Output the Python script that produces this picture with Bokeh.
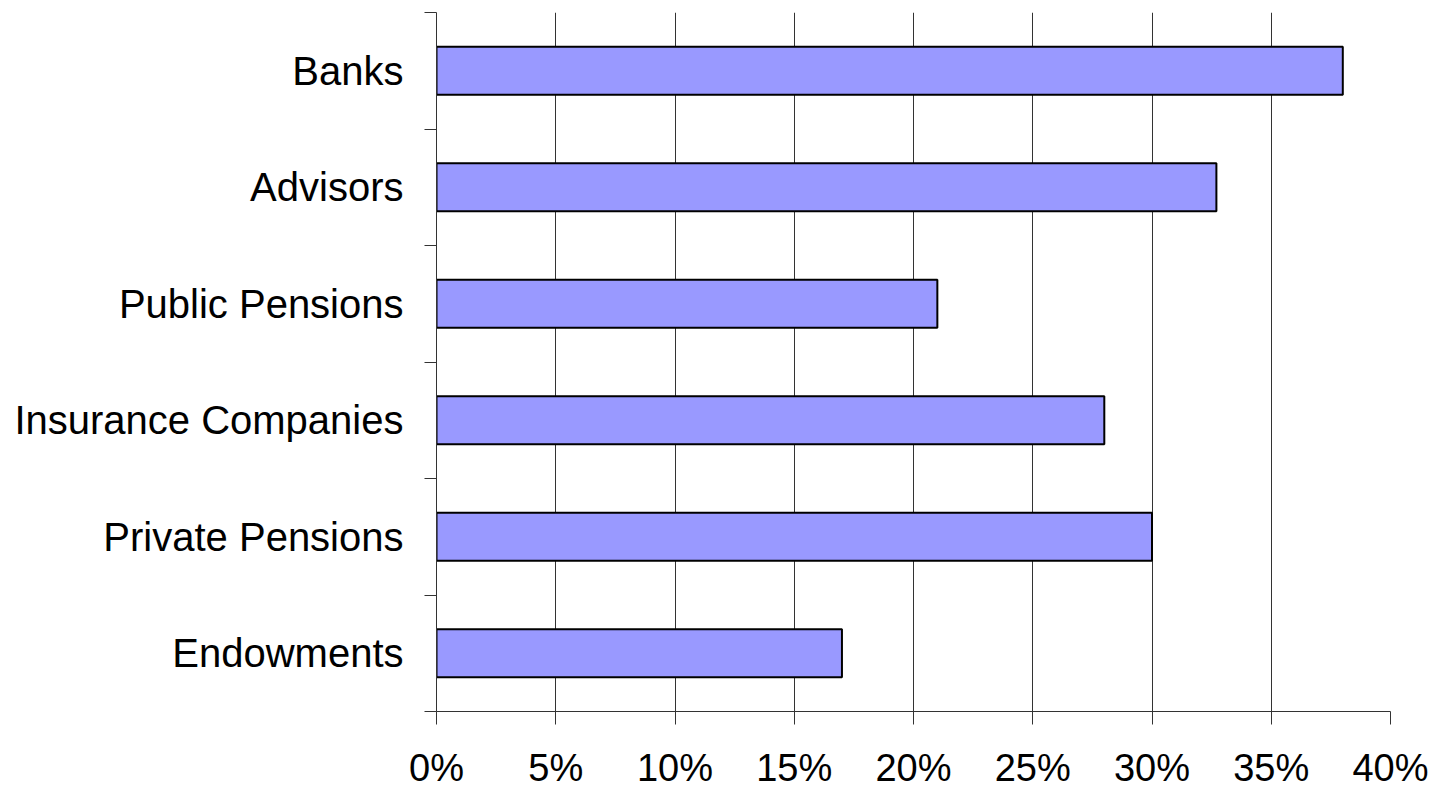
from bokeh.plotting import figure
from bokeh.models import FixedTicker, ColumnDataSource, Range1d
from bokeh.embed import file_html
from bokeh.resources import INLINE

categories = ["Endowments", "Private Pensions", "Insurance Companies",
              "Public Pensions", "Advisors", "Banks"]
values = [0.17, 0.30, 0.28, 0.21, 0.327, 0.38]
x_ticks = [0.0, 0.05, 0.10, 0.15, 0.20, 0.25, 0.30, 0.35, 0.40]
x_tick_labels = ["0%", "5%", "10%", "15%", "20%", "25%", "30%", "35%", "40%"]

positions = [i + 0.5 for i in range(len(categories))]
bounds = list(range(len(categories) + 1))

src = ColumnDataSource(dict(y=positions, v=values, name=categories))

p = figure(width=1439, height=791, output_backend="svg", toolbar_location=None,
           x_range=Range1d(0, 0.40), y_range=Range1d(0, len(categories)),
           min_border_left=436, min_border_right=49, min_border_top=12,
           min_border_bottom=79)
p.outline_line_color = None
p.background_fill_color = "white"
p.border_fill_color = "white"

p.hbar(y="y", left=0, right="v", height=0.41, source=src,
       fill_color="#9999FF", line_color="black", line_width=2)

# x axis
p.xaxis.ticker = FixedTicker(ticks=x_ticks, minor_ticks=[])
p.xaxis.major_label_overrides = {t: l for t, l in zip(x_ticks, x_tick_labels)}
p.xaxis.major_label_text_font = "Liberation Sans"
p.xaxis.major_label_text_font_size = "38px"
p.xaxis.major_label_text_color = "black"
p.xaxis.major_tick_out = 13
p.xaxis.major_tick_in = 0
p.xaxis.major_tick_line_color = "#333333"
p.xaxis.axis_line_color = "#333333"
p.xaxis.major_label_standoff = 22

# y axis
p.yaxis.ticker = FixedTicker(ticks=positions, minor_ticks=bounds)
p.yaxis.major_label_overrides = {pos: c for pos, c in zip(positions, categories)}
p.yaxis.major_label_text_font = "Liberation Sans"
p.yaxis.major_label_text_font_size = "40px"
p.yaxis.major_label_text_color = "black"
p.yaxis.major_tick_out = 0
p.yaxis.major_tick_in = 0
p.yaxis.minor_tick_out = 12
p.yaxis.minor_tick_in = 0
p.yaxis.minor_tick_line_color = "#333333"
p.yaxis.axis_line_color = "#333333"
p.yaxis.major_label_standoff = 21

p.xgrid.ticker = FixedTicker(ticks=x_ticks)
p.xgrid.grid_line_color = "#333333"
p.xgrid.grid_line_width = 1
p.ygrid.grid_line_color = None

open("out.html", "w").write(file_html(p, INLINE))
